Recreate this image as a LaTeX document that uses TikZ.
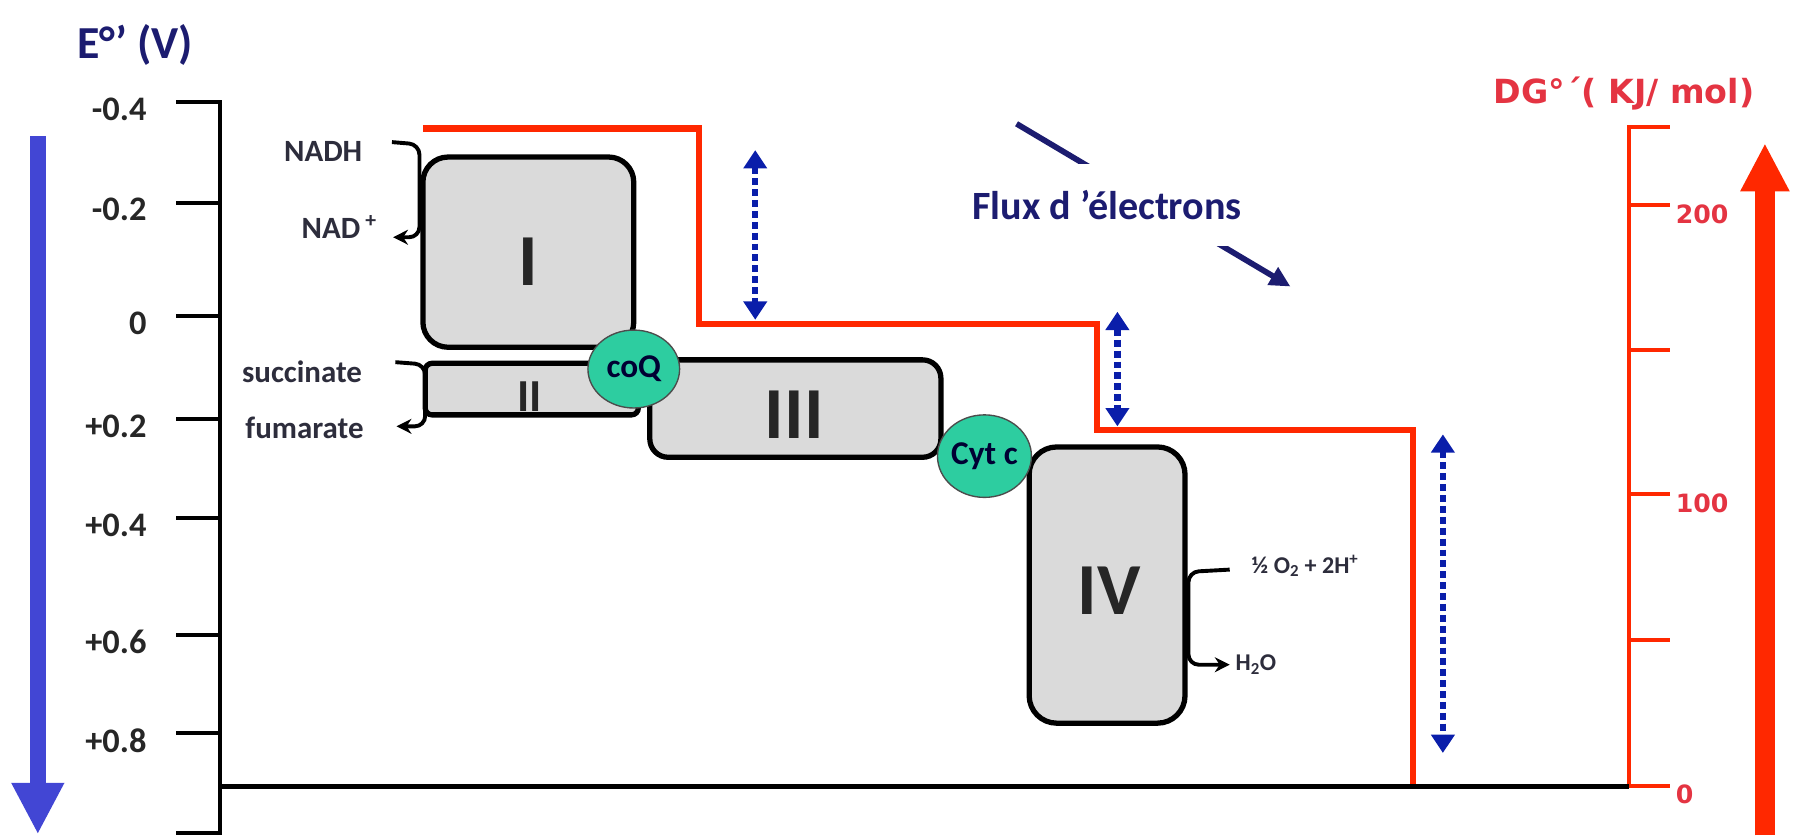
\documentclass[tikz,border=0pt]{standalone}
\usepackage{fontspec}
\setmainfont{Carlito}
\newfontfamily\dvs{DejaVu Sans}
\usetikzlibrary{arrows.meta,shapes.geometric}
\definecolor{axblue}{RGB}{66,70,212}
\definecolor{navy}{RGB}{28,28,112}
\definecolor{dashblue}{RGB}{10,30,170}
\definecolor{redl}{RGB}{255,40,0}
\definecolor{redt}{RGB}{228,52,66}
\definecolor{teal2}{RGB}{45,205,160}
\definecolor{boxgray}{RGB}{218,218,218}
\definecolor{txtgray}{RGB}{45,45,60}
\begin{document}
\begin{tikzpicture}[x=1pt,y=-1pt,
  cplx/.style={draw=black, line width=4.6, fill=boxgray, inner sep=0},
  roman/.style={font=\bfseries\fontsize{64}{64}\selectfont, text=black!85, inner sep=0},
  carrier/.style={ellipse, fill=teal2, draw=black!70, line width=1.2, inner sep=0,
    font=\bfseries\fontsize{29}{29}\selectfont, text=black!80!blue},
  bracket/.style={line width=3.4, rounded corners=9, -{Stealth[length=13pt,width=13pt]}},
  chemtxt/.style={font=\bfseries\fontsize{27}{27}\selectfont, text=txtgray, inner sep=0},
  smalltxt/.style={font=\bfseries\fontsize{21}{21}\selectfont, text=txtgray, inner sep=0},
  tlab/.style={font=\bfseries\fontsize{30}{30}\selectfont, text=black!85, anchor=east, inner sep=0},
  rlab/.style={font=\dvs\bfseries\fontsize{22}{22}\selectfont, text=redt, anchor=west, inner sep=0},
  meas/.style={dashblue, line width=5.5, dash pattern=on 6pt off 3.5pt,
    {Triangle[length=16pt,width=20pt]}-{Triangle[length=16pt,width=20pt]}},
]
\useasboundingbox (0,0) rectangle (1568,729);

% ---------- left potential axis ----------
\node[font=\bfseries\fontsize{40}{40}\selectfont, text=navy, anchor=base west, inner sep=0] (eaxis) at (67,51) {E°’ (V)};
\draw[axblue, line width=14, -{Triangle[length=45pt,width=43pt]}] (33,119) -- (33,728);
\draw[line width=3.5] (154,89) -- (192,89) -- (192,727) -- (154,727);
\foreach \lab/\yy [count=\i] in {-0.4/89,-0.2/177,0/276,+0.2/366,+0.4/452,+0.6/554,+0.8/640}{
  \draw[line width=3.5] (154,\yy) -- (192,\yy);
  \node[tlab] (tl\i) at (128,\yy+6) {\lab};
}

% ---------- right free-energy axis ----------
\node[font=\dvs\bfseries\fontsize{29}{29}\selectfont, text=redt, anchor=base east, inner sep=0] (gaxis) at (1531,90) {DG°´( KJ/ mol)};
\draw[redl, line width=3.5] (1457,111) -- (1421,111) -- (1421,686) -- (1457,686);
\foreach \yy in {179,305,431,558}{
  \draw[redl, line width=3.5] (1421,\yy) -- (1457,\yy);
}
\node[rlab] (g200) at (1462,187) {200};
\node[rlab] (g100) at (1462,439) {100};
\node[rlab] (g0) at (1462,693) {0};
\draw[redl, line width=18, -{Triangle[length=42pt,width=40pt]}] (1540,729) -- (1540,125);

% ---------- red energy steps ----------
\draw[redl, line width=5.5] (369,112) -- (610,112) -- (610,283) -- (957,283) -- (957,375) -- (1233,375) -- (1233,686);

% ---------- baseline ----------
\draw[line width=4] (192,686.5) -- (1421,686.5);

% ---------- measuring arrows ----------
\coordinate (m1a) at (659,131);
\coordinate (m1b) at (659,279);
\coordinate (m2a) at (975,272);
\coordinate (m2b) at (975,372);
\coordinate (m3a) at (1259,379);
\coordinate (m3b) at (1259,657);
\draw[meas] (m1a) -- (m1b);
\draw[meas] (m2a) -- (m2b);
\draw[meas] (m3a) -- (m3b);

% ---------- electron flux ----------
\coordinate (fa) at (887,108);
\coordinate (fb) at (1126,250);
\draw[navy, line width=5, -{Triangle[length=18pt,width=17pt]}] (fa) -- (fb);
\node[font=\bfseries\fontsize{35}{35}\selectfont, text=navy, fill=white, minimum height=72, inner xsep=4] (flux) at (966,179) {Flux d ’électrons};

% ---------- complexes ----------
\node[cplx, rounded corners=22, minimum width=184, minimum height=166] (c1) at (461,220) {};
\node[roman] (l1) at (461,228) {I};
\node[cplx, rounded corners=6, minimum width=186, minimum height=45] (c2) at (464,339.5) {};
\node[roman, font=\bfseries\fontsize{40}{40}\selectfont] (l2) at (462,346) {II};
\node[cplx, rounded corners=16, minimum width=254, minimum height=85] (c3) at (694,356.5) {};
\node[roman] (l3) at (693,362) {III};
\node[cplx, rounded corners=24, minimum width=136, minimum height=241] (c4) at (966,510.5) {};
\node[roman] (l4) at (968,515) {IV};

% ---------- mobile carriers ----------
\node[carrier, minimum width=80, minimum height=68] (coq) at (553,322) {coQ};
\node[carrier, minimum width=80, minimum height=72] (cytc) at (859,398) {Cyt c};

% ---------- substrates ----------
\node[chemtxt] (nadh) at (282,132) {NADH};
\node[chemtxt, anchor=west] (nad) at (263,198) {NAD\,\textsuperscript{+}};
\coordinate (nadhs) at (342,124);
\coordinate (nade) at (343,207);
\draw[bracket] (nadhs) -- (366,126) -- (366,207) -- (nade);

\node[chemtxt, anchor=west] (succ) at (211,324) {succinate};
\node[chemtxt, anchor=west] (fum) at (214,373) {fumarate};
\coordinate (succs) at (345,316);
\coordinate (fume) at (346,372);
\draw[bracket] (succs) -- (371,318) -- (371,372) -- (fume);

\node[smalltxt, anchor=west] (o2) at (1092,494) {½ O\textsubscript{2} + 2H\textsuperscript{+}};
\node[smalltxt, anchor=west] (h2o) at (1078,580) {H\textsubscript{2}O};
\coordinate (o2s) at (1073,497);
\coordinate (h2oe) at (1073,580);
\draw[bracket] (o2s) -- (1037,499) -- (1037,580) -- (h2oe);
\end{tikzpicture}
\end{document}
